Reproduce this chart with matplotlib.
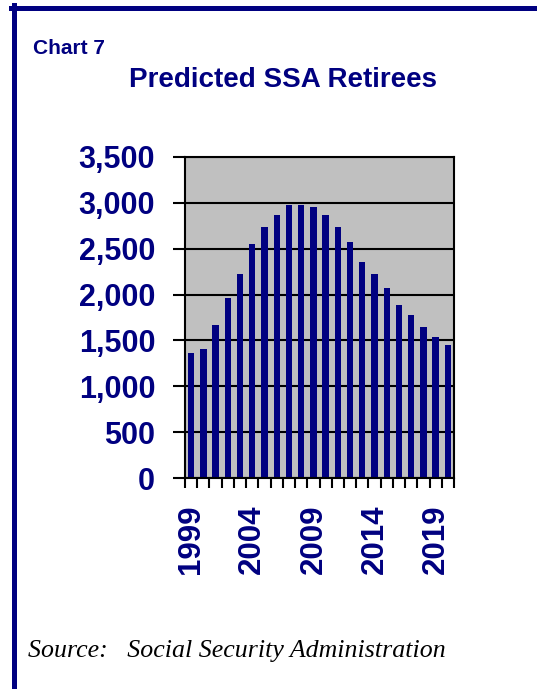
import matplotlib
matplotlib.use("Agg")
import matplotlib.pyplot as plt
from matplotlib.lines import Line2D
from matplotlib.ticker import FuncFormatter, MultipleLocator
import numpy as np

years = list(range(1999, 2021))
retirees = [1359, 1403, 1672, 1959, 2224, 2551, 2733, 2864, 2980, 2980, 2951,
            2864, 2733, 2577, 2355, 2224, 2068, 1890, 1781, 1650, 1537, 1450]
label_years = [1999, 2004, 2009, 2014, 2019]

NAVY = "#000080"
W, H = 537, 689
fig = plt.figure(figsize=(W / 100, H / 100), dpi=100)

ax = fig.add_axes([185 / W, 1 - 478 / H, (454 - 185) / W, (478 - 157) / H])
x = np.arange(len(years))
ax.set_facecolor("#C0C0C0")
ax.bar(x, retirees, width=0.52, color=NAVY, zorder=3)
ax.set_ylim(0, 3500)
ax.set_xlim(-0.5, len(years) - 0.5)
ax.yaxis.set_major_locator(MultipleLocator(500))
ax.yaxis.set_major_formatter(FuncFormatter(lambda v, p: f"{int(v):,}"))
ax.grid(axis="y", color="black", linewidth=1.5, zorder=1)
for s in ax.spines.values():
    s.set_color("black")
    s.set_linewidth(1.5)
    s.set_zorder(4)

# x ticks: labels at bar centers every 5 years, tick marks at boundaries
ax.set_xticks([years.index(y) for y in label_years])
ax.set_xticklabels([str(y) for y in label_years], rotation=90,
                   fontfamily="Liberation Sans", fontweight="bold",
                   fontsize=22.5, color=NAVY)
ax.set_xticks(np.arange(len(years) + 1) - 0.5, minor=True)
ax.tick_params(axis="x", which="major", length=0, pad=19)
ax.tick_params(axis="x", which="minor", length=7.5, width=1.5, color="black")
ax.tick_params(axis="y", which="major", length=8.5, width=1.5, color="black",
               pad=13)
for lab in ax.get_yticklabels():
    lab.set_fontfamily("Liberation Sans")
    lab.set_fontweight("bold")
    lab.set_fontsize(22)
    lab.set_color(NAVY)

fig.text(33 / W, 1 - 54 / H, "Chart 7", fontfamily="Liberation Sans",
         fontweight="bold", fontsize=15, color=NAVY, va="baseline", ha="left")
fig.text(129 / W, 1 - 87 / H, "Predicted SSA Retirees",
         fontfamily="Liberation Sans", fontweight="bold", fontsize=20,
         color=NAVY, va="baseline", ha="left")
fig.text(28 / W, 1 - 657 / H, "Source:   Social Security Administration",
         fontfamily="Liberation Serif", fontstyle="italic", fontsize=18.6,
         color="black", va="baseline", ha="left")

# frame border (top and left)
fig.add_artist(Line2D([11 / W, 1], [1 - 7.5 / H, 1 - 7.5 / H], color=NAVY,
                      linewidth=3.6, transform=fig.transFigure))
fig.add_artist(Line2D([13.5 / W, 13.5 / W], [0, 1 - 5 / H], color=NAVY,
                      linewidth=3.6, transform=fig.transFigure))

fig.savefig("out.png", dpi=100)
